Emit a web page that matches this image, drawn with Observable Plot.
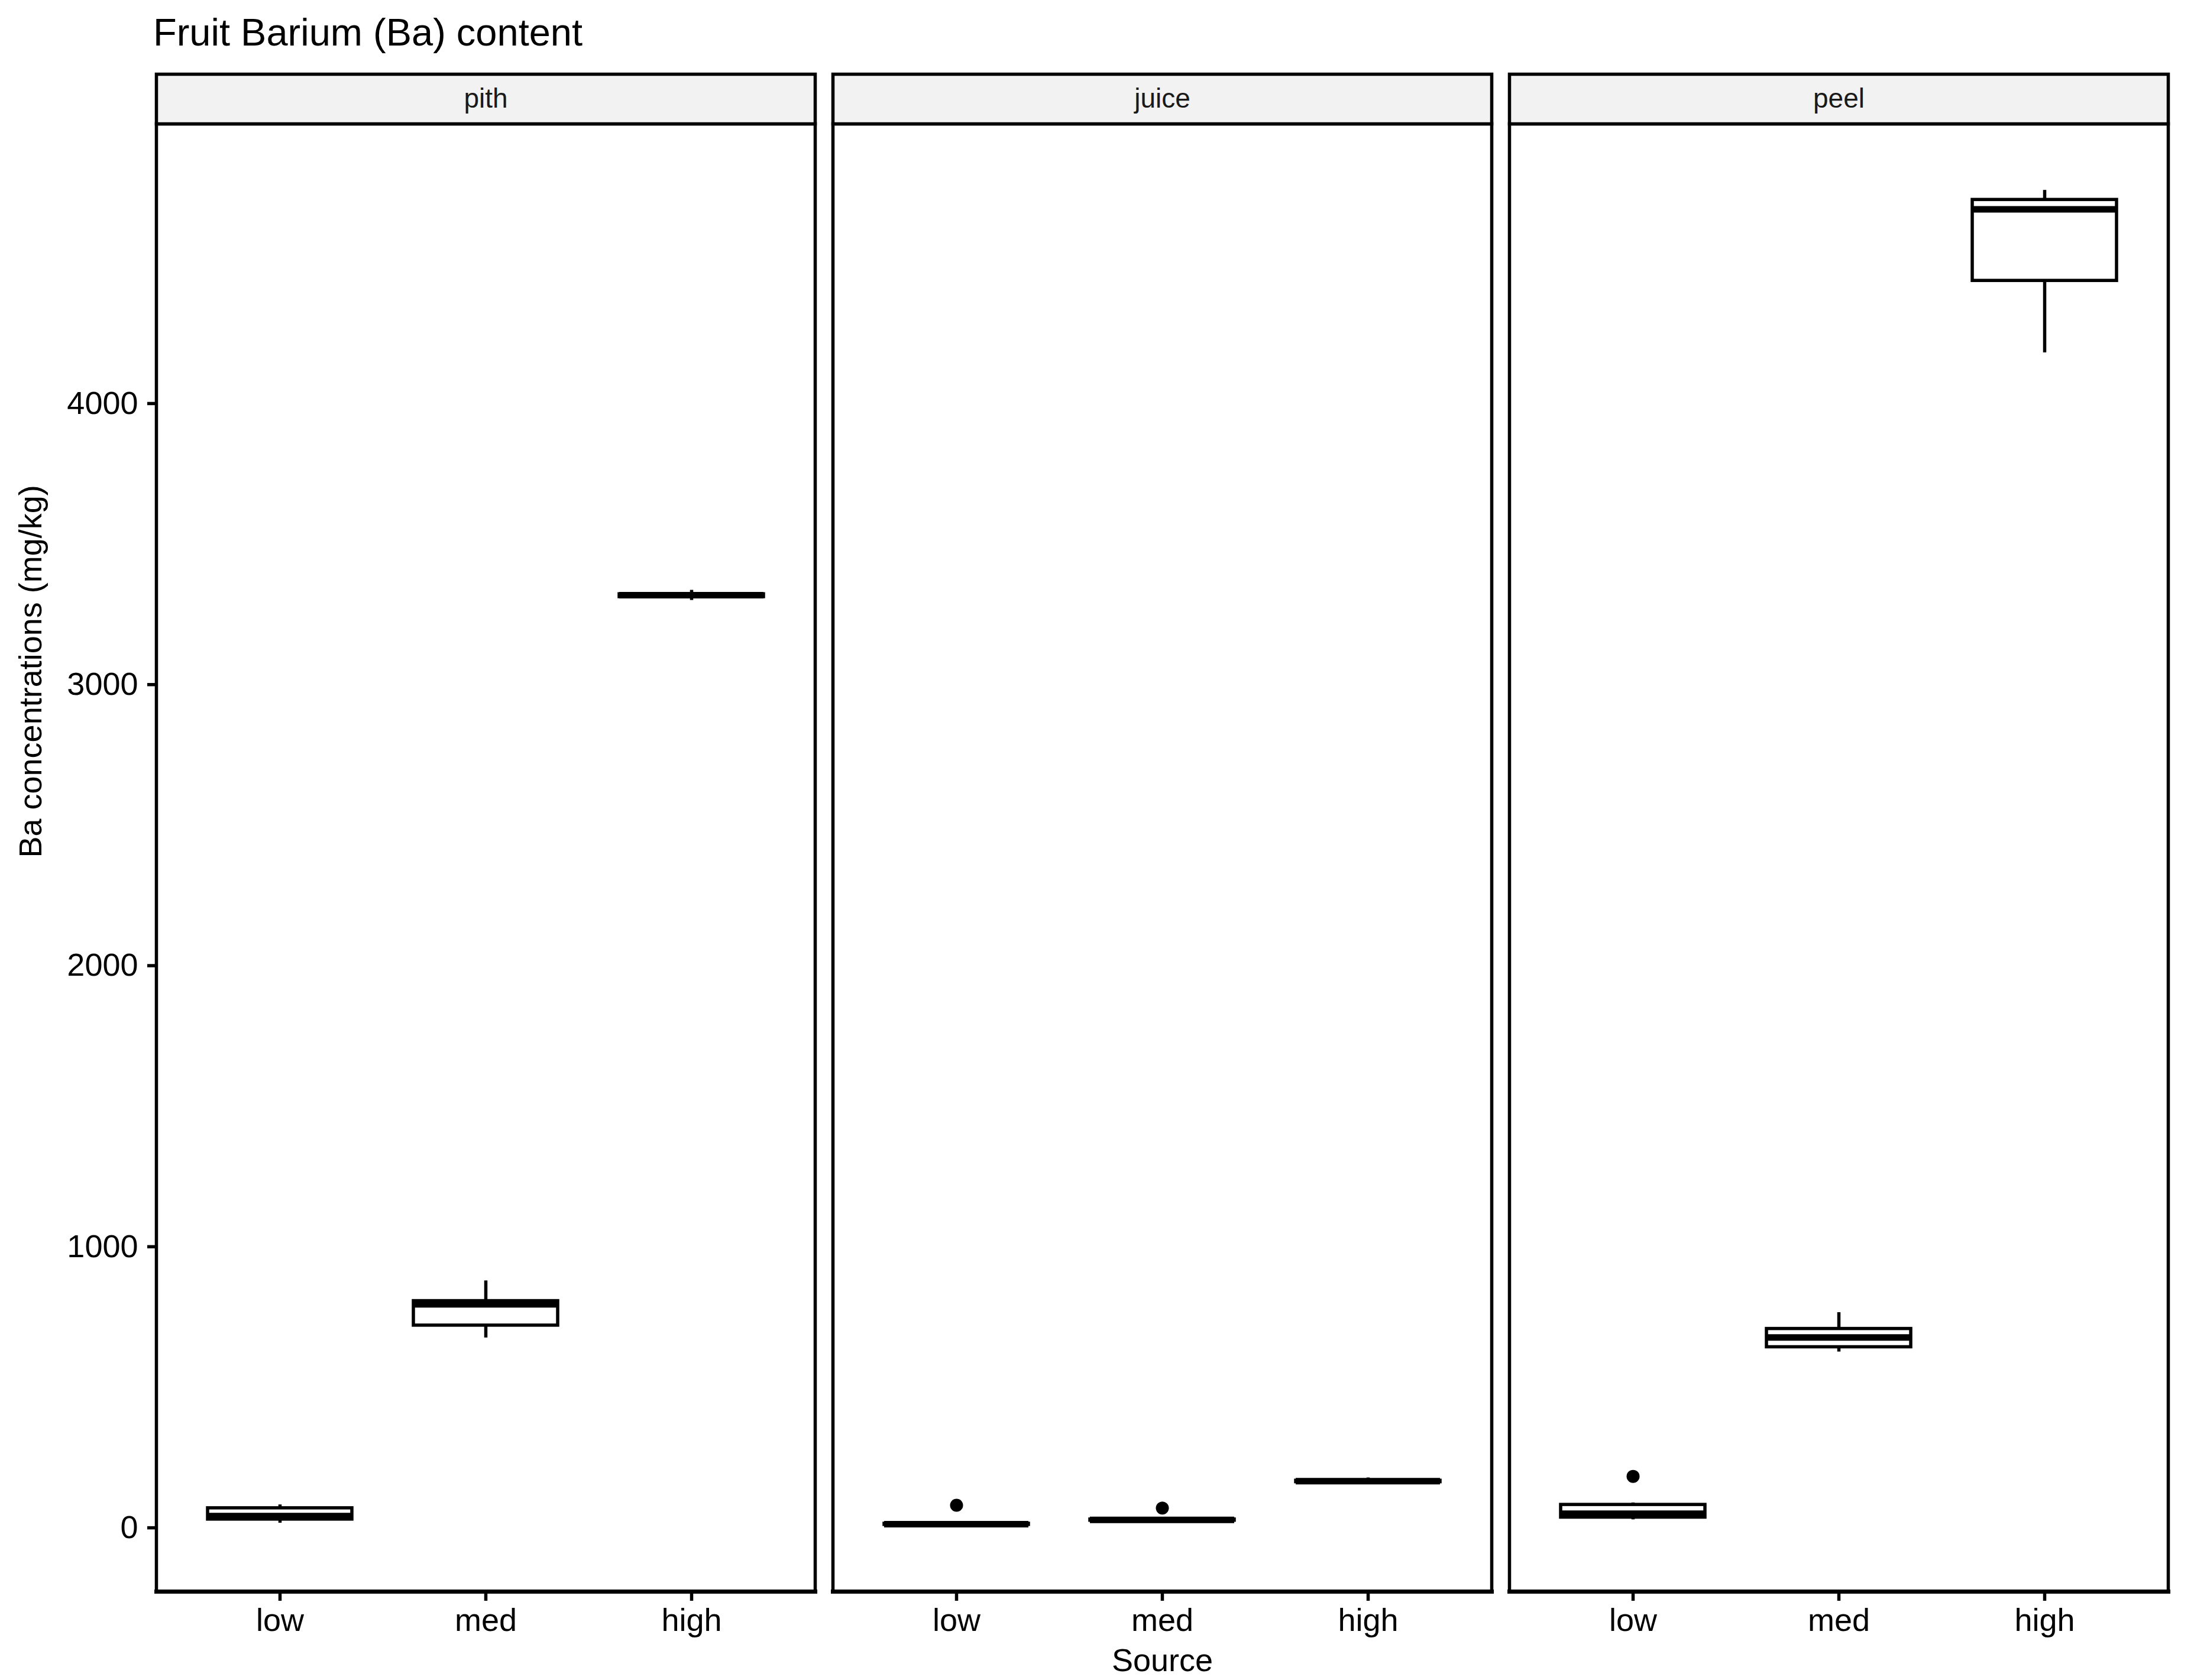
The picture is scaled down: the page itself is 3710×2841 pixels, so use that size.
<!DOCTYPE html>
<html>
<head>
<meta charset="utf-8">
<script src="https://cdn.jsdelivr.net/npm/d3@7"></script>
<script src="https://cdn.jsdelivr.net/npm/@observablehq/plot@0.6"></script>
<style>
  body { margin: 0; background: #ffffff; font-family: "Liberation Sans", Arial, sans-serif; }
  #title { position: relative; height: 110px; width: 3710px; }
  #title span { position: absolute; left: 259px; top: 22px; font-size: 65px; line-height: 65px; color: #000; white-space: nowrap; }
  #chart svg { display: block; }
</style>
</head>
<body>
<div id="title"><span>Fruit Barium (Ba) content</span></div>
<div id="chart"></div>
<script>
// Facets (fruit part) and categories (source)
const parts = ["pith", "juice", "peel"];
const sources = ["low", "med", "high"];

// Box-plot summaries, one entry per part × source
const boxPart   = ["pith", "pith", "pith", "juice", "juice", "juice", "peel", "peel", "peel"];
const boxSource = ["low", "med", "high", "low", "med", "high", "low", "med", "high"];
const whiskerLow  = [17, 676, 3300,  8, 24, 160, 29, 626, 4181];
const quartile1   = [30, 720, 3312, 11, 26, 163, 37, 643, 4437];
const medianValue = [42, 795, 3318, 13, 28, 166, 50, 677, 4691];
const quartile3   = [70, 807, 3322, 15, 30, 168, 82, 708, 4725];
const whiskerHigh = [82, 879, 3336, 18, 33, 178, 89, 766, 4759];

// Outlier points
const outlierPart   = ["juice", "juice", "peel"];
const outlierSource = ["low", "med", "low"];
const outlierValue  = [80, 70, 183];

// Axis ticks and titles
const yTicks = [0, 1000, 2000, 3000, 4000];
const yTitle = "Ba concentrations (mg/kg)";
const xTitle = "Source";

const boxes = boxPart.map((p, i) => ({
  part: p, source: boxSource[i],
  min: whiskerLow[i], q1: quartile1[i], median: medianValue[i], q3: quartile3[i], max: whiskerHigh[i]
}));
const outliers = outlierPart.map((p, i) => ({part: p, source: outlierSource[i], value: outlierValue[i]}));

const W = 3710, H = 2731, mL = 264, mR = 44, mT = 99, mB = 150;
const frameH = H - mT - mB;
const font = "Liberation Sans, Arial, sans-serif";

const chart = Plot.plot({
  width: W, height: H,
  marginLeft: mL, marginRight: mR, marginTop: mT, marginBottom: mB,
  style: {fontFamily: font, background: "white", color: "black", overflow: "visible"},
  fx: {domain: parts, paddingInner: 30 / 1144, paddingOuter: 0, axis: null, label: null},
  x: {domain: sources, paddingInner: 0.3, paddingOuter: 0.25, axis: null, label: null},
  y: {domain: [-227, 4995], axis: null},
  marks: [
    Plot.ruleX(boxes, {fx: "part", x: "source", y1: "min", y2: "q1", stroke: "black", strokeWidth: 5.5}),
    Plot.ruleX(boxes, {fx: "part", x: "source", y1: "q3", y2: "max", stroke: "black", strokeWidth: 5.5}),
    Plot.barY(boxes, {fx: "part", x: "source", y1: "q1", y2: "q3", fill: "white", stroke: "black", strokeWidth: 5.5}),
    Plot.tickY(boxes, {fx: "part", x: "source", y: "median", stroke: "black", strokeWidth: 11}),
    Plot.dot(outliers, {fx: "part", x: "source", y: "value", r: 11, fill: "black"}),
    Plot.axisY({ticks: yTicks, tickFormat: d => String(d), tickSize: 15, tickPadding: 16, fontSize: 54, label: null, strokeWidth: 5.5, fill: "black"}),
    Plot.axisX({tickSize: 16, tickPadding: 12, fontSize: 54, label: null, strokeWidth: 5.5, fill: "black"}),
    Plot.frame({stroke: "black", strokeWidth: 5.5}),
    Plot.frame({anchor: "bottom", stroke: "black", strokeWidth: 7}),
    Plot.frame({insetTop: -84, insetBottom: frameH, fill: "#f2f2f2", stroke: "black", strokeWidth: 5.5}),
    Plot.text(parts, {fx: d => d, text: d => d, frameAnchor: "top", lineAnchor: "middle", dy: -42, fontSize: 46, fill: "#1a1a1a"}),
    Plot.text([yTitle], {fx: () => "pith", text: d => d, frameAnchor: "left", lineAnchor: "middle", dx: -212, rotate: -90, fontSize: 54, fill: "black"}),
    Plot.text([xTitle], {fx: () => "juice", text: d => d, frameAnchor: "bottom", dy: 134, lineAnchor: "bottom", fontSize: 54, fill: "black"})
  ]
});
document.getElementById("chart").appendChild(chart);
</script>
</body>
</html>
